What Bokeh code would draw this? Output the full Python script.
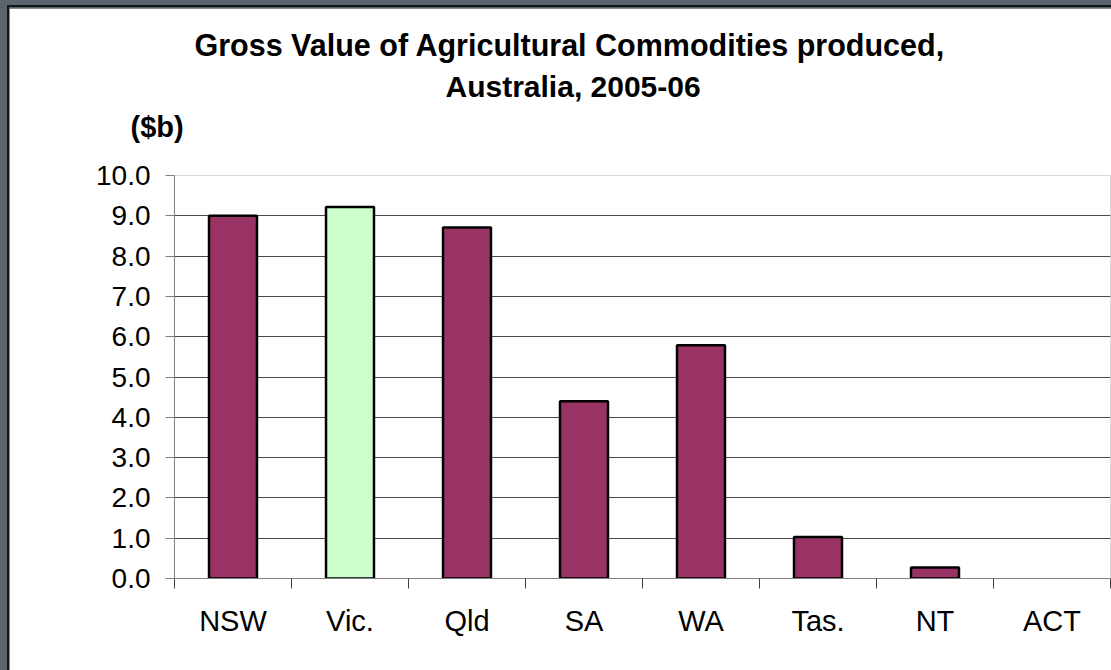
from bokeh.plotting import figure
from bokeh.models import (Range1d, FixedTicker, Title, ColumnDataSource, LinearAxis,
                          PrintfTickFormatter, GlobalInlineStyleSheet)
from bokeh.embed import file_html
from bokeh.resources import INLINE

# ---- data ----
states = ["NSW", "Vic.", "Qld", "SA", "WA", "Tas.", "NT", "ACT"]
gross_value = [9.0, 9.22, 8.71, 4.4, 5.79, 1.03, 0.27, 0.0]
bar_colors = ["#993366", "#CCFFCC", "#993366", "#993366", "#993366", "#993366", "#993366", "#993366"]
y_ticks = [0, 1, 2, 3, 4, 5, 6, 7, 8, 9, 10]
title_lines = ["Gross Value of Agricultural Commodities produced,", "Australia, 2005-06"]
unit_label = "($b)"

FONT = "Liberation Sans"

p = figure(width=1102, height=662, output_backend="svg", toolbar_location=None,
           x_range=Range1d(0, len(states)), y_range=Range1d(0, 10),
           min_border_left=165, min_border_right=1, min_border_top=167, min_border_bottom=92,
           background_fill_color="white", border_fill_color="white", outline_line_color=None)
p.title.visible = False

centers = [i + 0.5 for i in range(len(states))]
keep = [i for i, v in enumerate(gross_value) if v > 0]
src = ColumnDataSource(dict(x=[centers[i] for i in keep],
                            top=[gross_value[i] for i in keep],
                            color=[bar_colors[i] for i in keep]))

# grid
p.xgrid.visible = False
p.ygrid.ticker = FixedTicker(ticks=y_ticks)
p.ygrid.grid_line_color = "#4a4a4a"
p.ygrid.grid_line_width = 1

p.vbar(x="x", top="top", bottom=0, width=0.41, source=src, fill_color="color",
       line_color="black", line_width=2.5)

# y axis
ya = p.yaxis[0]
ya.ticker = FixedTicker(ticks=y_ticks)
ya.formatter = PrintfTickFormatter(format="%.1f")
ya.axis_line_color = "#808080"
ya.major_tick_line_color = "#808080"
ya.major_tick_out = 9
ya.major_tick_in = 0
ya.minor_tick_line_color = None
ya.major_label_standoff = 15
ya.major_label_text_font = FONT
ya.major_label_text_font_size = "28px"
ya.major_label_text_color = "black"

# x axis
xa = p.xaxis[0]
xa.ticker = FixedTicker(ticks=centers, minor_ticks=list(range(len(states) + 1)))
xa.major_label_overrides = {c: s for c, s in zip(centers, states)}
xa.axis_line_color = "#808080"
xa.major_tick_line_color = None
xa.major_tick_out = 0
xa.major_tick_in = 0
xa.minor_tick_line_color = "#404040"
xa.minor_tick_out = 10
xa.minor_tick_in = 0
xa.major_label_standoff = 16
xa.major_label_text_font = FONT
xa.major_label_text_font_size = "29px"
xa.major_label_text_color = "black"

# invisible top axis used only as a vertical spacer above the plot area
spacer = LinearAxis(ticker=FixedTicker(ticks=[]), axis_line_color=None,
                    major_tick_line_color=None, minor_tick_line_color=None,
                    major_tick_out=0, major_tick_in=0, minor_tick_out=0, minor_tick_in=0,
                    major_label_standoff=0, major_label_text_font_size="0px",
                    axis_label=" ", axis_label_standoff=18,
                    axis_label_text_font=FONT, axis_label_text_font_size="10px")
p.add_layout(spacer, "above")

# unit label and titles (added nearest-first)
p.add_layout(Title(text=unit_label, align="left", offset=-44, standoff=2,
                   text_font=FONT, text_font_style="bold", text_font_size="29px",
                   text_color="black"), "above")
p.add_layout(Title(text=title_lines[1], align="left", offset=271, standoff=10,
                   text_font=FONT, text_font_style="bold", text_font_size="30px",
                   text_color="black"), "above")
p.add_layout(Title(text=title_lines[0], align="left", offset=20, standoff=2,
                   text_font=FONT, text_font_style="bold", text_font_size="30.5px",
                   text_color="black"), "above")

p.stylesheets = [GlobalInlineStyleSheet(css=(
    "html body{padding:8px 0 0 9px !important;"
    "background:linear-gradient(#151515,#151515) 7px 5px/2px 100% no-repeat,"
    "linear-gradient(#151515,#151515) 7px 5px/100% 2px no-repeat,#5c646d !important;}"))]

open("out.html", "w").write(file_html(p, INLINE))
